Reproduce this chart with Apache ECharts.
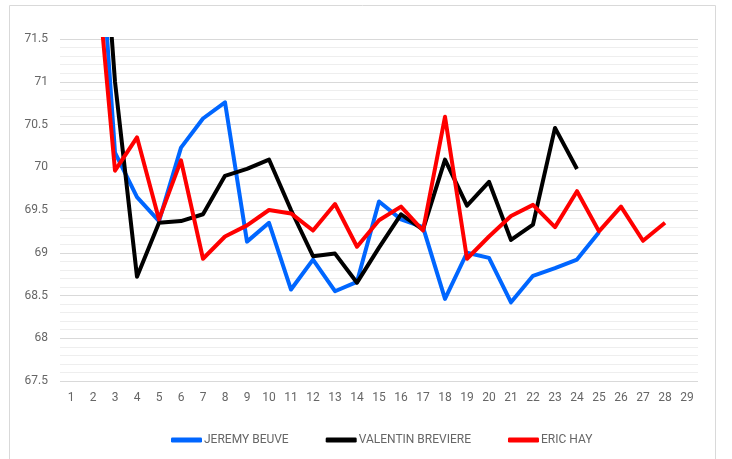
<!DOCTYPE html>
<html>
<head>
<meta charset="utf-8">
<script src="https://cdn.jsdelivr.net/npm/echarts@6/dist/echarts.min.js"></script>
<style>
  html, body { margin: 0; padding: 0; background: #fff; }
  #main { width: 732px; height: 459px; }
</style>
</head>
<body>
<div id="main"></div>
<script>
// race numbers 1..29
var categories = [];
for (var i = 1; i <= 29; i++) categories.push(String(i));

var beuve = [null, 73.9, 70.17, 69.65, 69.37, 70.23, 70.57, 70.76, 69.13, 69.35,
  68.57, 68.92, 68.55, 68.66, 69.6, 69.39, 69.3, 68.46, 69.0, 68.94,
  68.42, 68.73, 68.82, 68.92, 69.24];
var breviere = [null, 74.5, 71.0, 68.72, 69.35, 69.37, 69.45, 69.9, 69.98, 70.09,
  69.5, 68.96, 68.99, 68.65, 69.06, 69.45, 69.27, 70.09, 69.55, 69.83,
  69.15, 69.33, 70.46, 69.98];
var hay = [null, 72.8, 69.96, 70.35, 69.39, 70.08, 68.93, 69.19, 69.32, 69.5,
  69.46, 69.26, 69.57, 69.07, 69.38, 69.54, 69.26, 70.59, 68.93, 69.19,
  69.43, 69.56, 69.3, 69.72, 69.25, 69.54, 69.14, 69.35];

var textColor = '#666';
var font = 'Roboto';

var myChart = echarts.init(document.getElementById('main'));

function line(name, color, data) {
  return {
    name: name,
    type: 'line',
    data: data,
    symbol: 'none',
    connectNulls: false,
    lineStyle: { color: color, width: 4, join: 'round' },
    itemStyle: { color: color }
  };
}

myChart.setOption({
  animation: false,
  graphic: [{
    type: 'rect',
    shape: { x: 9.5, y: 5.5, width: 706, height: 470 },
    style: { fill: 'none', stroke: '#d9d9d9', lineWidth: 1 },
    silent: true
  }],
  grid: { left: 60, right: 34, top: 39, bottom: 78 },
  legend: {
    left: 166,
    top: 429,
    icon: 'roundRect',
    itemWidth: 31,
    itemHeight: 5,
    itemGap: 37,
    textStyle: { color: textColor, fontFamily: font, fontSize: 12, padding: [0, 0, 0, -3] },
    data: ['JEREMY BEUVE', 'VALENTIN BREVIERE', 'ERIC HAY']
  },
  xAxis: {
    type: 'category',
    data: categories,
    boundaryGap: true,
    axisLine: { show: false },
    axisTick: { show: false },
    axisLabel: { color: textColor, fontFamily: font, fontSize: 12, margin: 11 }
  },
  yAxis: {
    type: 'value',
    min: 67.5,
    max: 71.5,
    interval: 0.5,
    axisLine: { show: false },
    axisTick: { show: false },
    axisLabel: { color: textColor, fontFamily: font, fontSize: 12, margin: 12 },
    splitLine: { show: true, lineStyle: { color: '#d9d9d9', width: 1 } },
    minorTick: { show: false, splitNumber: 5 },
    minorSplitLine: { show: true, lineStyle: { color: '#eeeeee', width: 1 } }
  },
  series: [
    line('JEREMY BEUVE', '#0066ff', beuve),
    line('VALENTIN BREVIERE', '#000000', breviere),
    line('ERIC HAY', '#ff0000', hay)
  ]
});
</script>
</body>
</html>
